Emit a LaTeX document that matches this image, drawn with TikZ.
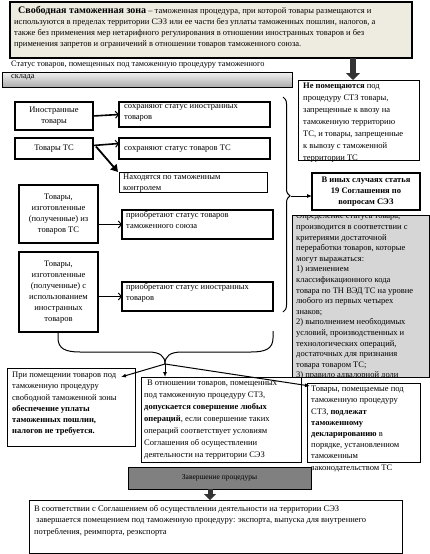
\documentclass[tikz,border=0pt]{standalone}
\usepackage{fontspec}
\setmainfont{Liberation Serif}
\usetikzlibrary{arrows.meta,calc,decorations.pathreplacing}
\definecolor{topfill}{RGB}{238,236,225}
\definecolor{grayfill}{RGB}{214,214,214}
\definecolor{endfill}{RGB}{128,128,128}
\newcommand\myfs{\fontsize{8.5}{11.2}\selectfont}
\begin{document}
\begin{tikzpicture}[x=1pt,y=-1pt,
  box/.style={draw,line width=1pt,anchor=north west,inner sep=0pt,outer sep=0pt,align=center,font=\myfs},
  tbox/.style={box,line width=1.5pt},
  t/.style={anchor=north west,inner sep=0pt,align=left,font=\myfs},
  bigarrow/.style={line width=6pt,black!80,-{Triangle[width=14pt,length=7pt]}},
  sarrow/.style={line width=1.6pt,-{Straight Barb[length=3pt,width=7pt,line width=1pt]}},
  darrow/.style={line width=1.8pt,-{Triangle[length=7pt,width=8pt]}},
  barrow/.style={line width=1pt,-{Latex[length=5pt,width=4pt]}}
]
\useasboundingbox (0,0) rectangle (430,554);
% top definition
\node[box,line width=1.8pt,fill=topfill,minimum width=402,minimum height=56] (def) at (10,2) {};
\node[t] (deftxt) at (14,6) {\hspace{4pt}{\fontsize{10}{11.2}\selectfont\bfseries Свободная таможенная зона} – таможенная процедура, при которой товары размещаются и\\используются в пределах территории СЭЗ или ее части без уплаты таможенных пошлин, налогов, а\\также без применения мер нетарифного регулирования в отношении иностранных товаров и без\\применения запретов и ограничений в отношении товаров таможенного союза.};
% status bar
\node[box,line width=0.8pt,top color=gray!10,bottom color=gray!65,minimum width=290,minimum height=15] (bar) at (2,72) {};
\node[t,font=\fontsize{8.3}{12}\selectfont] (stat) at (11,61) {Статус товаров, помещенных под таможенную процедуру таможенного\\склада};
% right top box
\node[box,minimum width=121,minimum height=80] (nepom) at (298,80) {};
\node[t,font=\fontsize{8.5}{12}\selectfont] (nepomtxt) at (303,83) {\textbf{Не помещаются} под\\процедуру СТЗ товары,\\запрещенные к ввозу на\\таможенную территорию\\ТС, и товары, запрещенные\\к вывозу с таможенной\\территории ТС};
\coordinate (a1) at (353,0);
\draw[bigarrow] (def.south -| a1) -- (nepom.north -| a1);
% left column
\node[tbox,minimum width=78,minimum height=28] (inos) at (15,102) {Иностранные\\товары};
\node[tbox,minimum width=78,minimum height=21] (tovts) at (15,138) {Товары ТС};
\node[tbox,minimum width=151,minimum height=25] (sohr1) at (119,102) {};
\node[t] (sohr1txt) at (124,104) {сохраняют статус иностранных\\товаров};
\node[tbox,minimum width=151,minimum height=21] (sohr2) at (119,138) {};
\node[t,anchor=west] (sohr2txt) at (124,148.5) {сохраняют статус товаров ТС};
\node[box,minimum width=148,minimum height=20] (nahod) at (119,172) {};
\node[t] (nahodtxt) at (123,174) {Находятся по таможенным\\контролем};
\node[tbox,minimum width=79,minimum height=58,font=\fontsize{8.5}{11}\selectfont] (izts) at (19,185) {Товары,\\изготовленные\\(полученные) из\\товаров ТС};
\node[tbox,minimum width=151,minimum height=29] (prio1) at (122,210) {};
\node[t] (prio1txt) at (126,211) {приобретают статус товаров\\таможенного союза};
\node[tbox,minimum width=79,minimum height=80,font=\fontsize{8.5}{11}\selectfont] (ispol) at (19,252) {Товары,\\изготовленные\\(полученные) с\\использованием\\иностранных\\товаров};
\node[tbox,minimum width=151,minimum height=29] (prio2) at (122,282) {};
\node[t] (prio2txt) at (126,283) {приобретают статус иностранных\\товаров};
% small arrows
\draw[sarrow] (inos.east) -- (sohr1.west);
\draw[sarrow] ($(tovts.east)+(0,-3)$) -- ($(sohr2.west)+(0,-5)$);
\draw[darrow] ($(tovts.east)+(3,-2)$) -- ($(nahod.north west)+(-1,0)$);
\draw[sarrow] (izts.east |- prio1.west) -- (prio1.west);
\draw[sarrow] (ispol.east |- prio2.west) -- (prio2.west);
% right brace
\draw[line width=1pt,decorate,decoration={brace,amplitude=7pt,aspect=0.46}] (283,97) -- (283,312);
\coordinate (rtip) at (291,196);
\node[tbox,minimum width=108,minimum height=37,font=\fontsize{8.5}{11}\selectfont\bfseries] (inyh) at (312,173) {В иных случаях статья\\19 Соглашения по\\вопросам СЭЗ};
\draw[barrow,line width=0.8pt] (rtip) -- (inyh.west |- rtip);
% gray criteria box
\node[box,draw=none,fill=grayfill,minimum width=137,minimum height=162] (crit) at (292,215) {};
\begin{scope}
\clip (292,215) rectangle (429,377);
\node[t,font=\fontsize{8.5}{10.6}\selectfont] (crittxt) at (296,213) {Определение статуса товара,\\производится в соответствии с\\критериями достаточной\\переработки  товаров, которые\\могут выражаться:\\1) изменением\\классификационного кода\\товара по ТН ВЭД ТС на уровне\\любого из первых четырех\\знаков;\\2) выполнением необходимых\\условий, производственных и\\технологических операций,\\достаточных для признания\\товара товаром ТС;\\3) правило адвалорной доли};
\end{scope}
\draw[line width=1pt] (crit.north west) rectangle (crit.south east);
% bottom brace
\coordinate (btip) at (165,364);
\draw[line width=1pt] (58,331) -- (58,338) .. controls (58,349) and (66,352) .. (80,352) -- (148,352) .. controls (160,352) and (165,356) .. (btip);
\draw[line width=1pt] (273,331) -- (273,338) .. controls (273,349) and (265,352) .. (251,352) -- (182,352) .. controls (170,352) and (165,356) .. (btip);
% bottom three boxes
\node[box,minimum width=128,minimum height=78] (lbox) at (7,368) {};
\node[t] (lboxtxt) at (12,372) {При помещении товаров под\\таможенную процедуру\\свободной таможенной зоны\\\textbf{обеспечение уплаты}\\\textbf{таможенных пошлин,}\\\textbf{налогов не требуется.}};
\node[box,minimum width=160,minimum height=85] (mbox) at (141,377) {};
\node[t,font=\fontsize{8.5}{12}\selectfont] (mboxtxt) at (144,380) {\hspace{3pt}В отношении товаров, помещенных\\под таможенную процедуру СТЗ,\\\textbf{допускается совершение любых}\\\textbf{операций}, если  совершение таких\\операций соответствует условиям\\Соглашения об осуществлении\\деятельности на территории СЭЗ};
\node[box,minimum width=113,minimum height=79] (rbox) at (307,383) {};
\node[t,font=\fontsize{8.5}{11.2}\selectfont] (rboxtxt) at (311,386) {Товары, помещаемые под\\таможенную процедуру\\СТЗ, \textbf{подлежат}\\\textbf{таможенному}\\\textbf{декларированию} в\\порядке, установленном\\таможенным\\законодательством ТС};
\draw[barrow] (btip) -- ($(lbox.north east)+(-14,9)$);
\draw[barrow] (btip) -- (mbox.north -| btip);
\draw[barrow] (btip) -- ($(rbox.north west)+(3,3)$);
% completion
\node[box,fill=endfill,minimum width=183,minimum height=22,font=\fontsize{7.5}{9}\selectfont] (zav) at (128,467) {Завершение процедуры};
\node[box,minimum width=373,minimum height=53] (fin) at (29,500) {};
\node[t,font=\fontsize{8.5}{11.5}\selectfont] (fintxt) at (34,505) {В соответствии с Соглашением об осуществлении деятельности на территории СЭЗ\\\hspace{2pt}завершается помещением под таможенную процедуру:  экспорта, выпуска для внутреннего\\потребления, реимпорта, реэкспорта};
\coordinate (a2) at (210,0);
\draw[bigarrow,line width=5pt,-{Triangle[width=12pt,length=6pt]}] (zav.south -| a2) -- (fin.north -| a2);
\end{tikzpicture}
\end{document}
